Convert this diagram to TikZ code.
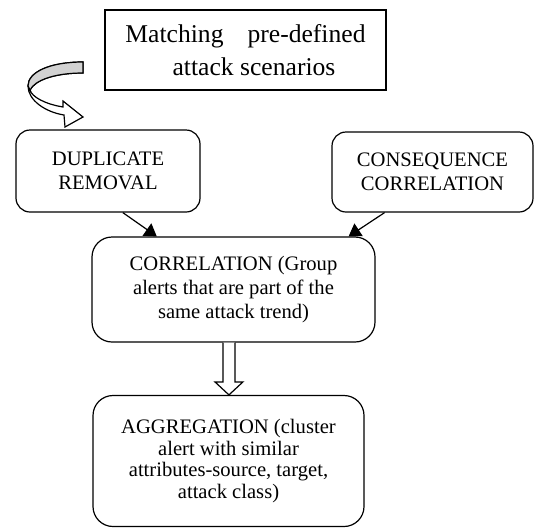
\documentclass[tikz,border=0pt]{standalone}
\usepackage{fontspec}
\setmainfont{Liberation Serif}
\usetikzlibrary{arrows.meta,calc}
\tikzset{
  box/.style={draw, line width=1.2pt, inner sep=0pt, align=center},
  rbox/.style={box, rounded corners=14pt},
  bigrbox/.style={box, rounded corners=20pt},
  flowarrow/.style={line width=1.2pt, -{Triangle[length=12pt,width=15pt]}},
  hollow/.style={line width=1.2pt, fill=white},
}
\begin{document}
\begin{tikzpicture}[x=1pt,y=-1pt]
\useasboundingbox (0,0) rectangle (535,528);
% nodes
\node[box, minimum width=281pt, minimum height=80pt,
      font=\fontsize{25.6}{33}\selectfont] (top) at (245.5,50)
  {Matching\hspace*{24pt}pre-defined\\\hspace*{17pt}attack scenarios};
\node[rbox, minimum width=184pt, minimum height=82pt,
      font=\fontsize{20.6}{24}\selectfont] (dup) at (108,171)
  {DUPLICATE\\REMOVAL};
\node[rbox, minimum width=201pt, minimum height=80pt,
      font=\fontsize{20.6}{24}\selectfont] (cons) at (432.5,172)
  {CONSEQUENCE\\CORRELATION};
\node[bigrbox, minimum width=283pt, minimum height=105pt,
      font=\fontsize{20.6}{24}\selectfont] (corr) at (233.5,289.5)
  {CORRELATION (Group\\alerts that are part of the\\same attack trend)};
\node[bigrbox, minimum width=271pt, minimum height=131pt,
      font=\fontsize{20.6}{21.7}\selectfont] (agg) at (228.5,461)
  {AGGREGATION (cluster\\alert with similar\\attributes-source, target,\\attack class)};
% connectors
\draw[flowarrow] ($(dup.south west)!0.58!(dup.south east)$) -- ($(corr.north west)!0.23!(corr.north east)$);
\draw[flowarrow] ($(cons.south west)!0.263!(cons.south east)$) -- ($(corr.north west)!0.905!(corr.north east)$);
% hollow block arrow
\coordinate (hs) at ($(corr.south west)!0.484!(corr.south east)$);
\coordinate (ht) at (hs |- agg.north);
\draw[hollow] ($(hs)+(-6,0)$) |- ($(ht)+(-14,-13)$) -- (ht) -- ($(ht)+(14,-13)$) -| ($(hs)+(6,0)$);
% curved ribbon arrow
\draw[hollow, line join=miter]
  (83,62) .. controls (50,62) and (28,72) .. (28,86)
  .. controls (28,100) and (45,112) .. (64,115)
  -- (65,127) -- (83,117) -- (63,101) -- (63,107)
  .. controls (45,104) and (32,97) .. (30,90)
  .. controls (35,80) and (55,73) .. (83,73) -- cycle;
\draw[line width=1.2pt, fill=gray!35]
  (83,62) .. controls (50,62) and (28,72) .. (28,86)
  -- (30,90) .. controls (35,80) and (55,73) .. (83,73) -- cycle;
\end{tikzpicture}
\end{document}
